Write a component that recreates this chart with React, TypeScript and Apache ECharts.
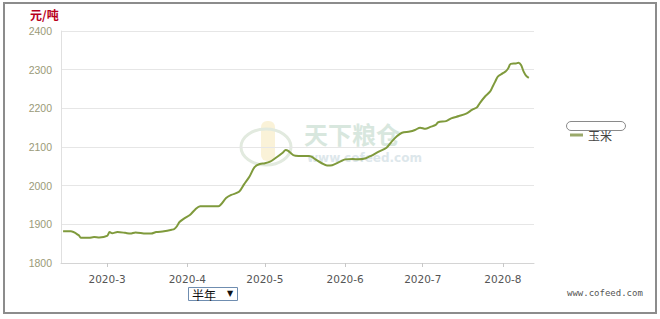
import React, { useEffect, useRef } from "react";
import * as echarts from "echarts";

const dates = [
  "2020-02-13", "2020-02-16", "2020-02-19", "2020-02-20", "2020-02-23", "2020-02-25", "2020-02-27",
  "2020-03-01", "2020-03-02", "2020-03-03", "2020-03-05", "2020-03-08", "2020-03-10", "2020-03-12",
  "2020-03-16", "2020-03-18", "2020-03-20", "2020-03-23", "2020-03-26", "2020-03-27", "2020-03-28",
  "2020-03-29", "2020-03-31", "2020-04-02", "2020-04-04", "2020-04-06", "2020-04-10", "2020-04-13",
  "2020-04-16", "2020-04-18", "2020-04-21", "2020-04-23", "2020-04-25", "2020-04-27", "2020-04-29",
  "2020-05-01", "2020-05-03", "2020-05-05", "2020-05-08", "2020-05-09", "2020-05-10", "2020-05-12",
  "2020-05-14", "2020-05-18", "2020-05-19", "2020-05-21", "2020-05-23", "2020-05-25", "2020-05-27",
  "2020-05-30", "2020-06-01", "2020-06-04", "2020-06-06", "2020-06-09", "2020-06-11", "2020-06-14",
  "2020-06-17", "2020-06-19", "2020-06-21", "2020-06-23", "2020-06-26", "2020-06-28", "2020-06-30",
  "2020-07-02", "2020-07-04", "2020-07-06", "2020-07-07", "2020-07-10", "2020-07-12", "2020-07-15",
  "2020-07-18", "2020-07-20", "2020-07-22", "2020-07-23", "2020-07-25", "2020-07-27", "2020-07-28",
  "2020-07-29", "2020-07-30", "2020-08-01", "2020-08-02", "2020-08-03", "2020-08-04", "2020-08-06",
  "2020-08-07", "2020-08-08", "2020-08-09", "2020-08-10", "2020-08-11",
];

const cornPrices = [
  1882, 1882, 1872, 1865, 1865, 1867, 1866,
  1870, 1880, 1877, 1880, 1878, 1876, 1879,
  1876, 1876, 1880, 1882, 1886, 1888, 1895,
  1906, 1916, 1924, 1938, 1947, 1947, 1947,
  1968, 1976, 1984, 2004, 2023, 2048, 2056,
  2058, 2062, 2071, 2086, 2092, 2090, 2079,
  2077, 2077, 2075, 2066, 2058, 2052, 2053,
  2062, 2068, 2069, 2068, 2071, 2077, 2088,
  2098, 2114, 2128, 2137, 2140, 2144, 2150,
  2147, 2152, 2157, 2164, 2167, 2174, 2180,
  2187, 2196, 2203, 2213, 2230, 2243, 2256,
  2269, 2282, 2291, 2295, 2303, 2315, 2316,
  2318, 2312, 2295, 2284, 2279,
];

const monthTicks = ["2020-03-01", "2020-04-01", "2020-05-01", "2020-06-01", "2020-07-01", "2020-08-01"];
const seriesName = "玉米";
const unitLabel = "元/吨";
const rangeLabel = "半年";
const siteLabel = "www.cofeed.com";

const DAY = 86400000;
const ts = (s: string) => {
  const [y, m, d] = s.split("-").map(Number);
  return Date.UTC(y, m - 1, d);
};

export default function App() {
  const ref = useRef<HTMLDivElement>(null);
  useEffect(() => {
    if (!ref.current) return;
    const chart = echarts.init(ref.current, null, { renderer: "svg" });
    const data = dates.map((d, i) => [ts(d), cornPrices[i]]);
    const ticks = monthTicks.map(ts);
    chart.setOption({
      animation: false,
      backgroundColor: "#ffffff",
      grid: { left: 61, right: 126, top: 31, bottom: 56, containLabel: false },
      legend: {
        data: [seriesName],
        left: 570,
        top: 128,
        padding: 0,
        icon: "rect",
        itemWidth: 13,
        itemHeight: 3,
        itemGap: 4,
        textStyle: { color: "#444", fontSize: 12, lineHeight: 14, fontFamily: "Noto Sans CJK SC" },
      },
      xAxis: {
        type: "value",
        min: ts("2020-02-12") + 0.2 * DAY,
        max: ts("2020-08-13"),
        axisLine: { show: true, lineStyle: { color: "#d4d4d4", width: 1 } },
        axisTick: { show: true, customValues: ticks, length: 4, lineStyle: { color: "#c8c8c8" } },
        axisLabel: {
          customValues: ticks,
          margin: 10,
          color: "#555",
          fontSize: 10.5,
          fontFamily: "DejaVu Sans",
          formatter: (v: number) => {
            const d = new Date(v);
            return d.getUTCFullYear() + "-" + (d.getUTCMonth() + 1);
          },
        },
        splitLine: { show: false },
      },
      yAxis: {
        type: "value",
        min: 1800,
        max: 2400,
        interval: 100,
        axisLine: { show: true, lineStyle: { color: "#e0e0e0" } },
        axisTick: { show: false },
        axisLabel: {
          color: "#9a9a78",
          fontSize: 10.5,
          margin: 9,
          fontFamily: "Liberation Sans",
          formatter: (v: number) => String(v),
        },
        splitLine: { show: true, lineStyle: { color: "#e6e6e6", width: 1 } },
      },
      graphic: [
        {
          type: "rect",
          shape: { x: 4, y: 3, width: 652, height: 310 },
          style: { fill: "none", stroke: "#8c8c8c", lineWidth: 2 },
          silent: true,
        },
        {
          type: "text",
          x: 30,
          y: 8,
          style: { text: unitLabel, fill: "#b8001c", font: "bold 12px 'Noto Sans CJK SC'" },
        },
        {
          type: "rect",
          shape: { x: 261, y: 121, width: 14, height: 40, r: 6 },
          style: { fill: "#f8ecc8", opacity: 0.7 },
          z: -2,
        },
        {
          type: "ellipse",
          shape: { cx: 266, cy: 147, rx: 25, ry: 18 },
          style: { fill: "none", stroke: "#e2eadf", lineWidth: 3 },
          z: -2,
        },
        {
          type: "text",
          x: 304,
          y: 121,
          style: { text: "天下粮仓", fill: "#d8e7de", font: "bold 24px 'Noto Sans CJK SC'" },
          z: -2,
        },
        {
          type: "text",
          x: 307,
          y: 152,
          style: { text: "www.cofeed.com", fill: "#dde7eb", font: "bold 12px 'DejaVu Sans'" },
          z: -2,
        },
        {
          type: "rect",
          shape: { x: 566.5, y: 121.5, width: 59, height: 9, r: 4.5 },
          style: { fill: "#ffffff", stroke: "#8a8a8a", lineWidth: 1 },
          z: -1,
        },
        {
          type: "rect",
          shape: { x: 188.5, y: 287.5, width: 49, height: 13 },
          style: { fill: "#ffffff", stroke: "#6f8db0", lineWidth: 1 },
        },
        {
          type: "text",
          x: 192,
          y: 288,
          style: { text: rangeLabel, fill: "#111", font: "12px 'Noto Sans CJK SC'" },
        },
        {
          type: "text",
          x: 227,
          y: 289,
          style: { text: "▼", fill: "#111", font: "8px 'DejaVu Sans'" },
        },
        {
          type: "text",
          x: 567,
          y: 288,
          style: { text: siteLabel, fill: "#555", font: "9px 'DejaVu Sans Mono'" },
        },
      ],
      series: [
        {
          name: seriesName,
          type: "line",
          data,
          smooth: 0.3,
          showSymbol: false,
          lineStyle: { color: "#7f9a3c", width: 2 },
          itemStyle: { color: "#9aa96a" },
          z: 3,
        },
      ],
    });
    return () => chart.dispose();
  }, []);
  return (
    <div
      ref={ref}
      style={{ position: "absolute", left: 0, top: 0, width: 660, height: 319 }}
    />
  );
}
